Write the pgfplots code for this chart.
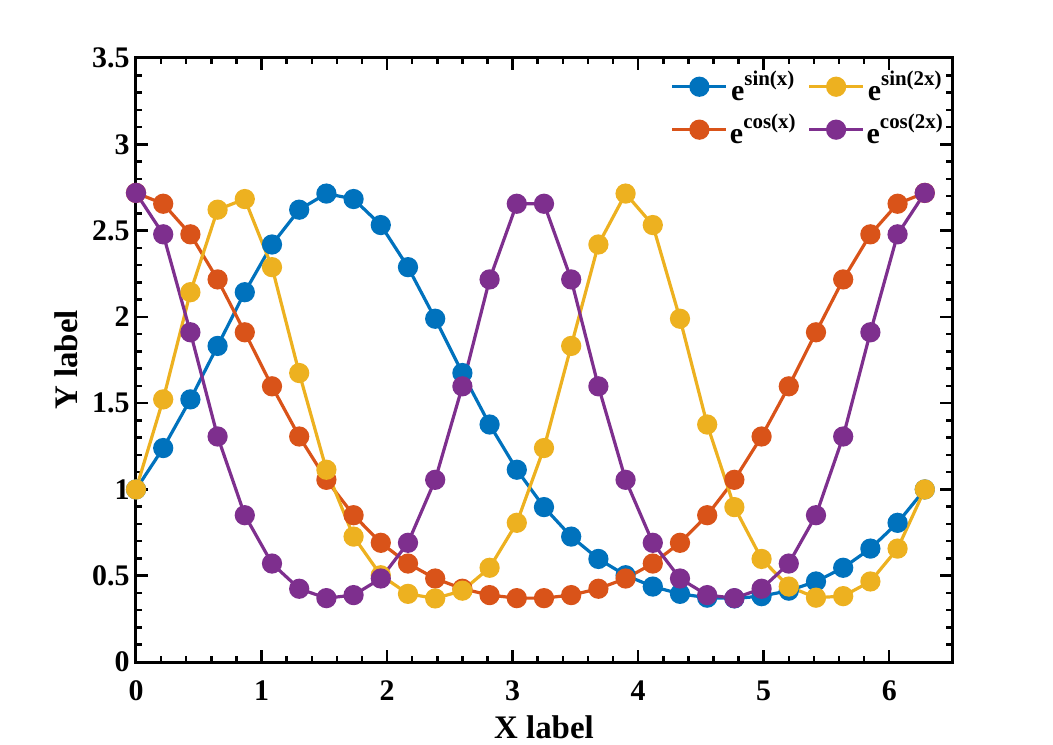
\documentclass[border=0pt]{standalone}
\usepackage{fontspec}
\setmainfont{Liberation Serif}
\usepackage{pgfplots}
\usepackage{pgfplotstable}
\pgfplotsset{compat=1.18}
\definecolor{c1}{rgb}{0,0.447,0.741}
\definecolor{c2}{rgb}{0.850,0.325,0.098}
\definecolor{c3}{rgb}{0.929,0.694,0.125}
\definecolor{c4}{rgb}{0.494,0.184,0.556}
\pgfplotstableread{
x sx cx s2x c2x
0.00000 1.00000 2.71828 1.00000 2.71828
0.21666 1.23983 2.65547 1.52179 2.47830
0.43332 1.52179 2.47830 2.14290 1.91054
0.64999 1.83157 2.21688 2.62102 1.30672
0.86665 2.14290 1.91054 2.68271 0.85063
1.08331 2.41938 1.59745 2.28802 0.57053
1.29997 2.62102 1.30672 1.67457 0.42449
1.51663 2.71430 1.05563 1.11418 0.37004
1.73329 2.68271 0.85063 0.72665 0.38765
1.94996 2.53192 0.69063 0.50273 0.48383
2.16662 2.28802 0.57053 0.39496 0.69063
2.38328 1.98913 0.48383 0.36842 1.05563
2.59994 1.67457 0.42449 0.41333 1.59745
2.81660 1.37617 0.38765 0.54598 2.21688
3.03327 1.11418 0.37004 0.80656 2.65547
3.24993 0.89752 0.37004 1.23983 2.65547
3.46659 0.72665 0.38765 1.83157 2.21688
3.68325 0.59717 0.42449 2.41938 1.59745
3.89991 0.50273 0.48383 2.71430 1.05563
4.11658 0.43706 0.57053 2.53192 0.69063
4.33324 0.39496 0.69063 1.98913 0.48383
4.54990 0.37276 0.85063 1.37617 0.38765
4.76656 0.36842 1.05563 0.89752 0.37004
4.98322 0.38153 1.30672 0.59717 0.42449
5.19988 0.41333 1.59745 0.43706 0.57053
5.41655 0.46666 1.91054 0.37276 0.85063
5.63321 0.54598 2.21688 0.38153 1.30672
5.84987 0.65712 2.47830 0.46666 1.91054
6.06653 0.80656 2.65547 0.65712 2.47830
6.28319 1.00000 2.71828 1.00000 2.71828
}\datatable
\newcommand{\legtxt}[1]{e\raisebox{0.5em}{\fontsize{21}{21}\selectfont #1}}
\begin{document}
\begin{tikzpicture}
\begin{axis}[
  name=ax,
  scale only axis,
  width=816bp, height=604bp,
  xmin=0, xmax=6.5, ymin=0, ymax=3.5,
  xtick={0,1,2,3,4,5,6},
  ytick={0,0.5,1,1.5,2,2.5,3,3.5},
  minor x tick num=4,
  minor y tick num=4,
  tick align=inside,
  major tick length=12bp,
  minor tick length=6bp,
  every tick/.style={line width=2.5bp, black},
  axis line style={line width=3bp},
  /pgf/number format/assume math mode=true,
  tick label style={font=\fontsize{30}{33}\selectfont\bfseries},
  xticklabel style={yshift=-15bp},
  yticklabel style={xshift=-3bp},
  xlabel={X label},
  ylabel={Y label},
  label style={font=\fontsize{33}{36}\selectfont\bfseries},
  xlabel style={yshift=-8bp},
  ylabel style={yshift=7bp},
  legend columns=2,
  transpose legend,
  legend style={at={(0.995,0.985)}, anchor=north east, draw=none, fill=none,
    font=\fontsize{30}{33}\selectfont\bfseries,
    /tikz/every even column/.append style={column sep=10bp},
    row sep=8bp},
  legend image code/.code={\draw[mark repeat=2,mark phase=2] plot coordinates {(0bp,0bp) (27bp,0bp) (54bp,0bp)};},
  every axis plot/.append style={line width=3.2bp, mark=*, mark size=8.5bp, mark options={solid, line width=0.5bp}},
]
\addplot[color=c1, mark options={fill=c1}] table[x=x, y=sx] {\datatable};
\addlegendentry{\legtxt{sin(x)}}
\addplot[color=c2, mark options={fill=c2}] table[x=x, y=cx] {\datatable};
\addlegendentry{\legtxt{cos(x)}}
\addplot[color=c3, mark options={fill=c3}] table[x=x, y=s2x] {\datatable};
\addlegendentry{\legtxt{sin(2x)}}
\addplot[color=c4, mark options={fill=c4}] table[x=x, y=c2x] {\datatable};
\addlegendentry{\legtxt{cos(2x)}}
\end{axis}
\path[use as bounding box] ([shift={(-136bp,-83bp)}]ax.south west) rectangle ([shift={(101bp,58bp)}]ax.north east);
\end{tikzpicture}
\end{document}
